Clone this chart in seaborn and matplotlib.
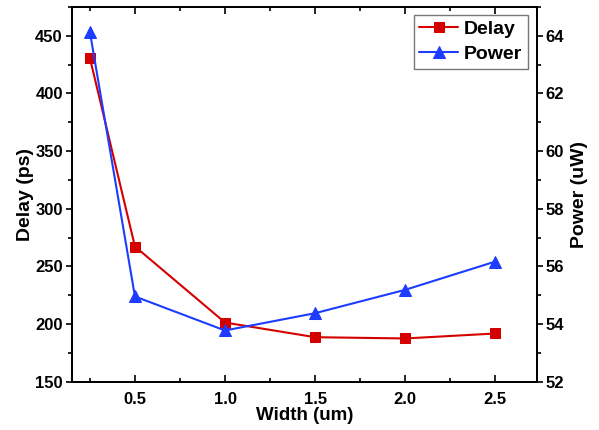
import matplotlib
matplotlib.use("Agg")
import matplotlib.pyplot as plt
import seaborn as sns
import pandas as pd
from matplotlib.ticker import MultipleLocator

sns.set_style("ticks")
plt.rcParams['font.family'] = ['Liberation Sans', 'DejaVu Sans']
plt.rcParams['font.weight'] = 'bold'
plt.rcParams['text.color'] = 'black'
plt.rcParams['axes.labelcolor'] = 'black'
plt.rcParams['xtick.color'] = 'black'
plt.rcParams['ytick.color'] = 'black'

width = [0.25, 0.5, 1.0, 1.5, 2.0, 2.5]
delay = [430.7, 267.3, 201.4, 188.7, 187.6, 191.9]
power = [64.13, 54.96, 53.78, 54.38, 55.19, 56.17]

df = pd.DataFrame({"Width": width, "Delay": delay, "Power": power})

red = "#D40000"
blue = "#1E3CFF"

fig = plt.figure(figsize=(5.99, 4.30), dpi=100)
ax = fig.add_axes([0.120, 0.112, 0.776, 0.872])
ax2 = ax.twinx()

sns.lineplot(data=df, x="Width", y="Delay", ax=ax, color=red, marker="s",
             markersize=7, markeredgecolor=red, linewidth=1.5, label="Delay", legend=False)
sns.lineplot(data=df, x="Width", y="Power", ax=ax2, color=blue, marker="^",
             markersize=8, markeredgecolor=blue, linewidth=1.5, label="Power", legend=False)

ax.set_xlim(0.15, 2.73)
ax.set_ylim(150, 475)
ax2.set_ylim(52, 65)

ax.xaxis.set_major_locator(MultipleLocator(0.5))
ax.xaxis.set_minor_locator(MultipleLocator(0.25))
ax.yaxis.set_major_locator(MultipleLocator(50))
ax.yaxis.set_minor_locator(MultipleLocator(25))
ax2.yaxis.set_major_locator(MultipleLocator(2))
ax2.yaxis.set_minor_locator(MultipleLocator(1))
ax.set_xticks([0.5, 1.0, 1.5, 2.0, 2.5])

ax.set_xlabel("Width (um)", fontsize=13.5, fontweight='bold', labelpad=0, color='black')
ax.set_ylabel("Delay (ps)", fontsize=14, fontweight='bold', labelpad=1, color='black')
ax2.set_ylabel("Power (uW)", fontsize=14, fontweight='bold', labelpad=5, color='black')

for a in (ax, ax2):
    for s in a.spines.values():
        s.set_linewidth(1.3)
        s.set_color('black')
        s.set_visible(True)

ax.tick_params(axis='x', which='both', direction='in', top=True, labelsize=12, width=1.2, pad=7)
ax.tick_params(axis='x', which='major', length=5)
ax.tick_params(axis='x', which='minor', length=3)
ax.tick_params(axis='y', which='both', direction='out', labelsize=12, width=1.2, pad=2)
ax.tick_params(axis='y', which='major', length=4.5)
ax.tick_params(axis='y', which='minor', length=3)
ax2.tick_params(axis='y', which='both', direction='out', labelsize=12, width=1.2, pad=2)
ax2.tick_params(axis='y', which='major', length=4.5)
ax2.tick_params(axis='y', which='minor', length=3)
for lbl in ax.get_xticklabels() + ax.get_yticklabels() + ax2.get_yticklabels():
    lbl.set_fontweight('bold')
    lbl.set_color('black')

h1, l1 = ax.get_legend_handles_labels()
h2, l2 = ax2.get_legend_handles_labels()
leg = ax2.legend(h1 + h2, l1 + l2, loc='upper right', bbox_to_anchor=(0.99, 0.99),
                 fancybox=False, frameon=True, edgecolor='#555555',
                 prop={'weight': 'bold', 'size': 14}, handlelength=2.0,
                 borderpad=0.3, labelspacing=0.38, handletextpad=0.3, borderaxespad=0.2)
leg.get_frame().set_linewidth(1.0)
for t in leg.get_texts():
    t.set_color('black')

fig.savefig("out.png", dpi=100)
